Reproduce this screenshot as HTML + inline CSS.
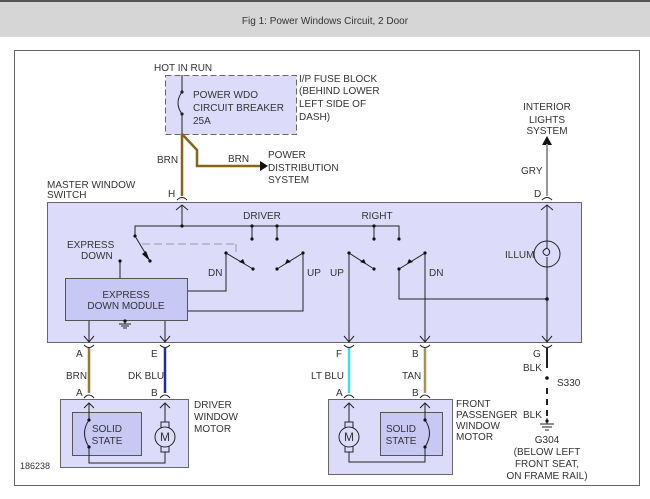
<!DOCTYPE html>
<html><head><meta charset="utf-8"><style>
html,body{margin:0;padding:0;background:#fff;width:650px;height:499px;overflow:hidden}
svg{display:block}
text{font-family:"Liberation Sans",Arial,sans-serif;font-size:10px;fill:#333}
</style></head><body>
<svg width="650" height="499" viewBox="0 0 650 499" xmlns="http://www.w3.org/2000/svg">
<defs>
<marker id="ah" markerWidth="8" markerHeight="8" refX="7" refY="4" orient="auto" markerUnits="userSpaceOnUse"><path d="M0,0 L8,4 L0,8 z" fill="#222"/></marker>
</defs>
<rect x="0" y="0" width="650" height="2" fill="#555"/>
<rect x="0" y="2" width="650" height="35" fill="#d6d6d6"/>
<text x="325" y="24" text-anchor="middle" style="font-size:10px">Fig 1: Power Windows Circuit, 2 Door</text>
<rect x="14.5" y="50.5" width="625" height="435" fill="none" stroke="#666" stroke-width="1"/>

<!-- fuse block -->
<rect x="165.5" y="75.5" width="131" height="59" fill="#dcdcfa" stroke="#666" stroke-dasharray="6,3"/>
<text x="154" y="71">HOT IN RUN</text>
<text x="299" y="82">I/P FUSE BLOCK</text>
<text x="299" y="94">(BEHIND LOWER</text>
<text x="299" y="107">LEFT SIDE OF</text>
<text x="299" y="120">DASH)</text>
<text x="193" y="98">POWER WDO</text>
<text x="193" y="111">CIRCUIT BREAKER</text>
<text x="193" y="124">25A</text>
<g stroke="#222" fill="none" stroke-width="1">
<line x1="182" y1="75" x2="182" y2="92"/>
<path d="M182,92 Q174,103 182,114"/>
<line x1="182" y1="114" x2="182" y2="134"/>
</g>
<circle cx="182" cy="92" r="1.6" fill="#222"/><circle cx="182" cy="114" r="1.6" fill="#222"/>
<g stroke="#8a6416" stroke-width="2.5" fill="none">
<line x1="182" y1="134" x2="182" y2="196"/>
<polyline points="182,134 197,150 197,166 261,166"/>
</g>
<path d="M260,161 L268,166 L260,171z" fill="#111"/>
<text x="157" y="163">BRN</text>
<text x="228" y="162">BRN</text>
<text x="268" y="158">POWER</text>
<text x="268" y="171">DISTRIBUTION</text>
<text x="268" y="183">SYSTEM</text>

<!-- interior lights -->
<text x="547" y="110" text-anchor="middle">INTERIOR</text>
<text x="547" y="123" text-anchor="middle">LIGHTS</text>
<text x="547" y="134" text-anchor="middle">SYSTEM</text>
<path d="M542,145 L547,136 L552,145z" fill="#111"/>
<line x1="547" y1="144" x2="547" y2="196" stroke="#999" stroke-width="2"/>
<text x="521" y="174">GRY</text>

<text x="47" y="188">MASTER WINDOW</text>
<text x="47" y="198">SWITCH</text>
<text x="168" y="197">H</text>
<text x="534" y="197">D</text>

<!-- switch box -->
<rect x="47.5" y="202.5" width="534" height="140" fill="#dcdcfa" stroke="#666"/>
<!-- top connectors -->
<g stroke="#222" fill="none" stroke-width="1">
<path d="M177,200 Q182,195 187,200"/>
<path d="M542,200 Q547,195 552,200"/>
<path d="M176,210 L182,205 L188,210"/>
<path d="M541,210 L547,205 L553,210"/>
<line x1="182" y1="205" x2="182" y2="226"/>
<polyline points="135,236 135,226 399,226 399,239"/>
<line x1="252" y1="226" x2="252" y2="239"/>
<line x1="277" y1="226" x2="277" y2="239"/>
<line x1="374" y1="226" x2="374" y2="239"/>
<line x1="135" y1="236" x2="150" y2="261"/>
<line x1="120" y1="261" x2="120" y2="278"/>
<polyline points="187,291 226,291 226,253 253,269"/>
<polyline points="187,311 303,311 303,253 277,269"/>
<polyline points="349,342 349,253 374,269"/>
<polyline points="425,342 425,253 399,269"/>
<polyline points="399,269 399,299 547,299"/>
<line x1="547" y1="205" x2="547" y2="241"/>
<line x1="547" y1="267" x2="547" y2="342"/>
<circle cx="547" cy="254" r="13"/>
<path d="M547,248 Q541,251 544,254 Q547,257 549,254 Q551,251 547,248"/>
<line x1="547" y1="241" x2="547" y2="248"/>
<line x1="547" y1="257" x2="547" y2="267"/>
<line x1="89" y1="320" x2="89" y2="342"/>
<line x1="165" y1="320" x2="165" y2="342"/>
<path d="M84,336 L89,342 L94,336"/><path d="M160,336 L165,342 L170,336"/>
<path d="M344,336 L349,342 L354,336"/><path d="M420,336 L425,342 L430,336"/>
<path d="M542,336 L547,342 L552,336"/>
</g>
<line x1="142" y1="244" x2="236" y2="244" stroke="#999" stroke-dasharray="8,4"/>
<line x1="236" y1="244" x2="236" y2="252" stroke="#999"/>
<g fill="#111">
<circle cx="182" cy="226" r="1.6"/><circle cx="135" cy="236" r="1.6"/><circle cx="150" cy="261" r="1.6"/>
<circle cx="252" cy="226" r="1.6"/><circle cx="277" cy="226" r="1.6"/><circle cx="252" cy="239" r="1.6"/><circle cx="277" cy="239" r="1.6"/>
<circle cx="374" cy="226" r="1.6"/><circle cx="374" cy="239" r="1.6"/><circle cx="399" cy="239" r="1.6"/>
<circle cx="120" cy="261" r="1.6"/>
<circle cx="226" cy="253" r="1.6"/><circle cx="253" cy="269" r="1.6"/><circle cx="303" cy="253" r="1.6"/><circle cx="277" cy="269" r="1.6"/>
<circle cx="349" cy="253" r="1.6"/><circle cx="374" cy="269" r="1.6"/><circle cx="425" cy="253" r="1.6"/><circle cx="399" cy="269" r="1.6"/>
<circle cx="547" cy="299" r="1.8"/>
<path d="M150,261 L142,254 L146,251z"/>
<path d="M245,264 L239,262 L243,259 z"/>
<path d="M285,264 L291,262 L287,259 z"/>
<path d="M366,264 L360,262 L364,259 z"/>
<path d="M407,264 L413,262 L409,259 z"/>
</g>
<rect x="65.5" y="278.5" width="122" height="42" fill="#c8c8f4" stroke="#555"/>
<text x="126" y="298" text-anchor="middle">EXPRESS</text>
<text x="126" y="309" text-anchor="middle">DOWN MODULE</text>
<g stroke="#222"><line x1="125" y1="321" x2="125" y2="324"/><line x1="119" y1="324" x2="131" y2="324"/><line x1="121" y1="326" x2="129" y2="326"/><line x1="123" y1="328" x2="127" y2="328"/></g>
<circle cx="125" cy="321" r="1.6" fill="#111"/>
<text x="67" y="248">EXPRESS</text>
<text x="81" y="259">DOWN</text>
<text x="262" y="219" text-anchor="middle">DRIVER</text>
<text x="377" y="219" text-anchor="middle">RIGHT</text>
<text x="208" y="276">DN</text>
<text x="307" y="276">UP</text>
<text x="330" y="276">UP</text>
<text x="429" y="276">DN</text>
<text x="505" y="258">ILLUM</text>

<!-- lower wires -->
<g stroke="#222" fill="none">
<path d="M84,345 Q89,350 94,345"/><path d="M160,345 Q165,350 170,345"/><path d="M344,345 Q349,350 354,345"/><path d="M420,345 Q425,350 430,345"/><path d="M542,345 Q547,350 552,345"/>
<path d="M84,398 Q89,392 94,398"/><path d="M160,398 Q165,392 170,398"/><path d="M344,398 Q349,392 354,398"/><path d="M420,398 Q425,392 430,398"/>
</g>
<line x1="89" y1="348" x2="89" y2="393" stroke="#9a7a2a" stroke-width="2.5"/>
<line x1="165" y1="348" x2="165" y2="393" stroke="#1a2ea0" stroke-width="2.5"/>
<line x1="349" y1="348" x2="349" y2="393" stroke="#2ee4f0" stroke-width="2.5"/>
<line x1="425" y1="348" x2="425" y2="393" stroke="#b09058" stroke-width="2.5"/>
<line x1="547" y1="348" x2="547" y2="368" stroke="#222" stroke-width="2"/>
<line x1="547" y1="388" x2="547" y2="418" stroke="#222" stroke-width="2" stroke-dasharray="6,5"/>
<circle cx="547" cy="378" r="1.8" fill="#111"/>
<g stroke="#222"><line x1="547" y1="418" x2="547" y2="424"/><line x1="540" y1="424" x2="554" y2="424"/><line x1="542" y1="427" x2="552" y2="427"/><line x1="545" y1="430" x2="549" y2="430"/></g>
<circle cx="547" cy="421" r="1.6" fill="#111"/>
<text x="76" y="357">A</text><text x="151" y="357">E</text><text x="336" y="357">F</text><text x="412" y="357">B</text><text x="533" y="357">G</text>
<text x="66" y="379">BRN</text><text x="128" y="379">DK BLU</text><text x="311" y="379">LT BLU</text><text x="402" y="379">TAN</text>
<text x="523" y="371">BLK</text><text x="557" y="386">S330</text><text x="523" y="418">BLK</text>
<text x="76" y="396">A</text><text x="151" y="396">B</text><text x="336" y="396">A</text><text x="412" y="396">B</text>
<text x="547" y="443" text-anchor="middle">G304</text>
<text x="547" y="455" text-anchor="middle">(BELOW LEFT</text>
<text x="547" y="467" text-anchor="middle">FRONT SEAT,</text>
<text x="547" y="479" text-anchor="middle">ON FRAME RAIL)</text>

<!-- driver motor -->
<rect x="60.5" y="399.5" width="128" height="68" fill="#dcdcfa" stroke="#666"/>
<rect x="72.5" y="412.5" width="69" height="43" fill="#c8c8f4" stroke="#555"/>
<text x="107" y="432" text-anchor="middle">SOLID</text>
<text x="107" y="444" text-anchor="middle">STATE</text>
<g stroke="#222" fill="none">
<polyline points="89,420 89,403"/><path d="M84,408 L89,403 L94,408"/>
<path d="M89,420 Q80,433 89,447"/>
<polyline points="89,447 89,463 165,463 165,452"/>
<polyline points="165,423 165,403"/><path d="M160,408 L165,403 L170,408"/>
<rect x="161" y="422" width="8" height="30" fill="#dcdcfa"/>
<circle cx="165" cy="437" r="10" fill="#dcdcfa"/>
</g>
<circle cx="89" cy="420" r="1.6" fill="#111"/><circle cx="89" cy="447" r="1.6" fill="#111"/>
<text x="165" y="441" text-anchor="middle" style="font-size:12px">M</text>
<text x="194" y="408">DRIVER</text><text x="194" y="420">WINDOW</text><text x="194" y="432">MOTOR</text>

<!-- passenger motor -->
<rect x="328.5" y="399.5" width="124" height="75" fill="#dcdcfa" stroke="#666"/>
<rect x="380.5" y="412.5" width="62" height="43" fill="#c8c8f4" stroke="#555"/>
<text x="401" y="432" text-anchor="middle">SOLID</text>
<text x="401" y="444" text-anchor="middle">STATE</text>
<g stroke="#222" fill="none">
<polyline points="425,420 425,403"/><path d="M420,408 L425,403 L430,408"/>
<path d="M425,420 Q434,433 425,447"/>
<polyline points="425,447 425,462 349,462 349,452"/>
<polyline points="349,423 349,403"/><path d="M344,408 L349,403 L354,408"/>
<rect x="345" y="422" width="8" height="30" fill="#dcdcfa"/>
<circle cx="349" cy="437" r="10" fill="#dcdcfa"/>
</g>
<circle cx="425" cy="420" r="1.6" fill="#111"/><circle cx="425" cy="447" r="1.6" fill="#111"/>
<text x="349" y="441" text-anchor="middle" style="font-size:12px">M</text>
<text x="456" y="407">FRONT</text><text x="456" y="418">PASSENGER</text><text x="456" y="429">WINDOW</text><text x="456" y="440">MOTOR</text>

<text x="20" y="469" style="font-size:9px">186238</text>
</svg>
</body></html>
